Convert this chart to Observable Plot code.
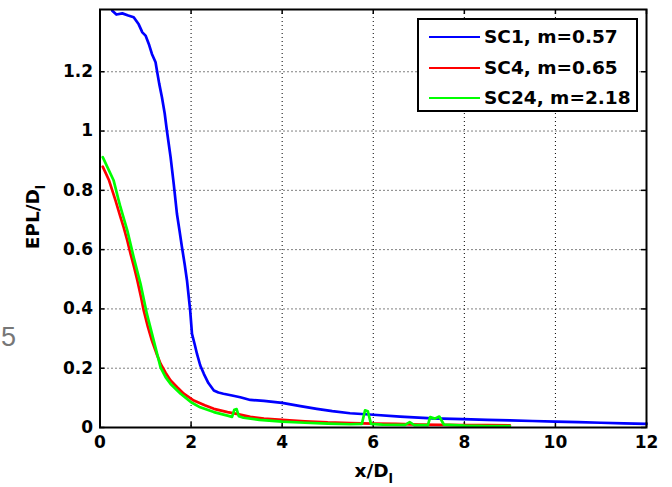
<!DOCTYPE html>
<html><head><meta charset="utf-8">
<script src="https://cdn.jsdelivr.net/npm/d3@7"></script>
<script src="https://cdn.jsdelivr.net/npm/@observablehq/plot@0.6"></script>
<style>
body{margin:0;background:#fff;}
#wrap{position:relative;width:672px;height:487px;overflow:hidden;font-family:"DejaVu Sans",sans-serif;}
#legend{position:absolute;left:417px;top:18px;width:217px;height:90px;border:2px solid #000;background:#fff;}
.lrow{position:absolute;left:0;height:30px;width:100%;}
.lsw{position:absolute;left:10px;top:50%;width:51px;height:0;border-top:2.5px solid;margin-top:-1px;}
.ltx{position:absolute;left:65px;top:50%;transform:translateY(-52%);font-weight:bold;font-size:18.5px;color:#000;white-space:nowrap;}
#stray{position:absolute;left:1px;top:322px;font-family:"Liberation Sans",Arial,sans-serif;font-size:27px;line-height:30px;color:#777;}
</style></head><body><div id="wrap"></div>
<script>
const seriesNames = ["SC1, m=0.57", "SC4, m=0.65", "SC24, m=2.18"];
const seriesColors = ["#0000ff", "#ff0000", "#00ff00"];
const xTicks = [0, 2, 4, 6, 8, 10, 12];
const yTicks = [0, 0.2, 0.4, 0.6, 0.8, 1, 1.2];
const xLabel = "x/D";
const yLabel = "EPL/D";
const labelSub = "l";
const strayGlyph = "5";

const sc1X = [0.27,0.36,0.49,0.62,0.74,0.85,0.93,1.0,1.08,1.14,1.22,1.25,1.30,1.36,1.42,1.47,1.55,1.62,1.69,1.75,1.80,1.86,1.91,1.98,2.02,2.08,2.13,2.2,2.28,2.38,2.5,2.6,2.71,2.9,3.08,3.3,3.6,4.0,4.4,4.76,5.1,5.49,6.0,6.59,7.3,7.97,8.5,9.0,9.5,10.0,10.5,11.0,11.5,12.0];
const sc1Y = [1.406,1.393,1.397,1.39,1.384,1.36,1.333,1.322,1.29,1.26,1.232,1.204,1.16,1.114,1.06,1.0,0.912,0.82,0.72,0.66,0.608,0.55,0.496,0.395,0.316,0.28,0.248,0.21,0.181,0.15,0.125,0.118,0.114,0.108,0.102,0.093,0.09,0.083,0.072,0.063,0.055,0.048,0.043,0.037,0.031,0.028,0.026,0.024,0.022,0.02,0.018,0.016,0.014,0.012];

const sc4X = [0.06,0.2,0.34,0.45,0.52,0.6,0.67,0.75,0.82,0.9,0.96,1.05,1.14,1.24,1.33,1.44,1.55,1.7,1.84,2.06,2.3,2.5,2.8,3.0,3.3,3.6,4.0,4.5,5.0,5.5,6.0,6.5,7.0,7.5,8.0,8.5,9.0];
const sc4Y = [0.88,0.833,0.766,0.71,0.675,0.63,0.586,0.54,0.496,0.44,0.395,0.34,0.293,0.25,0.215,0.185,0.159,0.135,0.114,0.091,0.075,0.063,0.052,0.046,0.036,0.03,0.026,0.021,0.017,0.015,0.013,0.012,0.01,0.009,0.008,0.008,0.007];

const sc24X = [0.06,0.3,0.41,0.45,0.6,0.74,0.89,1.03,1.18,1.33,1.44,1.55,1.77,2.0,2.2,2.5,2.8,2.9,2.95,3.0,3.05,3.15,3.5,4.0,4.5,5.0,5.5,5.75,5.82,5.88,5.95,6.2,6.7,6.8,6.9,7.2,7.25,7.35,7.45,7.55,8.0,8.5,9.0];
const sc24Y = [0.912,0.833,0.766,0.743,0.664,0.574,0.485,0.383,0.293,0.203,0.17,0.147,0.114,0.085,0.068,0.052,0.04,0.036,0.06,0.062,0.038,0.033,0.026,0.02,0.016,0.013,0.011,0.012,0.058,0.055,0.012,0.01,0.009,0.018,0.008,0.008,0.035,0.03,0.037,0.01,0.006,0.005,0.005];

const seriesX = [sc1X, sc4X, sc24X];
const seriesY = [sc1Y, sc4Y, sc24Y];
const rows = [];
seriesNames.forEach((name, i) => {
  seriesX[i].forEach((x, j) => rows.push({series: name, x, y: seriesY[i][j]}));
});

const W = 672, H = 487;
const mL = 99.5, mR = 26, mT = 9, mB = 60;
const pw = W - mL - mR, ph = H - mT - mB;
const tk = 5;
const font = '"DejaVu Sans", sans-serif';

const plot = Plot.plot({
  width: W, height: H,
  marginLeft: mL, marginRight: mR, marginTop: mT, marginBottom: mB,
  x: {domain: [0, 12], label: null},
  y: {domain: [0, 1.41], label: null},
  color: {domain: seriesNames, range: seriesColors},
  style: {fontFamily: font, fontSize: "17px", fontWeight: "bold", color: "#000", background: "#fff"},
  marks: [
    Plot.gridX(xTicks.slice(1, -1), {stroke: "#000", strokeOpacity: 1, strokeDasharray: "1,3", strokeWidth: 1}),
    Plot.gridY(yTicks.slice(1), {stroke: "#000", strokeOpacity: 1, strokeDasharray: "1,3", strokeWidth: 1}),
    Plot.tickX(xTicks, {x: d => d, stroke: "#000", strokeWidth: 1.5, insetTop: ph - tk}),
    Plot.tickX(xTicks, {x: d => d, stroke: "#000", strokeWidth: 1.5, insetBottom: ph - tk}),
    Plot.tickY(yTicks, {y: d => d, stroke: "#000", strokeWidth: 1.5, insetRight: pw - tk}),
    Plot.tickY(yTicks, {y: d => d, stroke: "#000", strokeWidth: 1.5, insetLeft: pw - tk}),
    Plot.line(rows, {x: "x", y: "y", z: "series", stroke: "series", strokeWidth: 2.7, strokeLinejoin: "round"}),
    Plot.axisX(xTicks, {anchor: "bottom", tickSize: 0, tickPadding: 8, label: null, tickFormat: d => String(d), fontWeight: "bold", fontSize: 17}),
    Plot.axisY(yTicks, {anchor: "left", tickSize: 0, tickPadding: 7, label: null, tickFormat: d => String(d), fontWeight: "bold", fontSize: 17}),
    Plot.frame({stroke: "#000", strokeWidth: 2})
  ]
});

const wrap = document.getElementById("wrap");
wrap.appendChild(plot);

const svg = d3.select(plot);
// x label
const xt = svg.append("text").attr("x", mL + pw / 2 + 1).attr("y", 477).attr("text-anchor", "middle")
  .attr("font-family", font).attr("font-weight", "bold").attr("font-size", 18.5).attr("fill", "#000");
xt.append("tspan").text(xLabel);
xt.append("tspan").attr("dy", 6).attr("font-size", 13).text(labelSub);
// y label
const yt = svg.append("text").attr("transform", `translate(39,217) rotate(-90)`).attr("text-anchor", "middle")
  .attr("font-family", font).attr("font-weight", "bold").attr("font-size", 18.5).attr("fill", "#000");
yt.append("tspan").text(yLabel);
yt.append("tspan").attr("dy", 6).attr("font-size", 13).text(labelSub);

// stray page glyph at left edge
const stray = document.createElement("div");
stray.id = "stray";
stray.textContent = strayGlyph;
wrap.appendChild(stray);

// legend
const leg = document.createElement("div");
leg.id = "legend";
seriesNames.forEach((name, i) => {
  const r = document.createElement("div");
  r.className = "lrow";
  r.style.top = (2 + i * 30.5) + "px";
  const sw = document.createElement("div");
  sw.className = "lsw";
  sw.style.borderTopColor = seriesColors[i];
  const tx = document.createElement("div");
  tx.className = "ltx";
  tx.textContent = name;
  r.appendChild(sw); r.appendChild(tx);
  leg.appendChild(r);
});
wrap.appendChild(leg);
</script></body></html>
